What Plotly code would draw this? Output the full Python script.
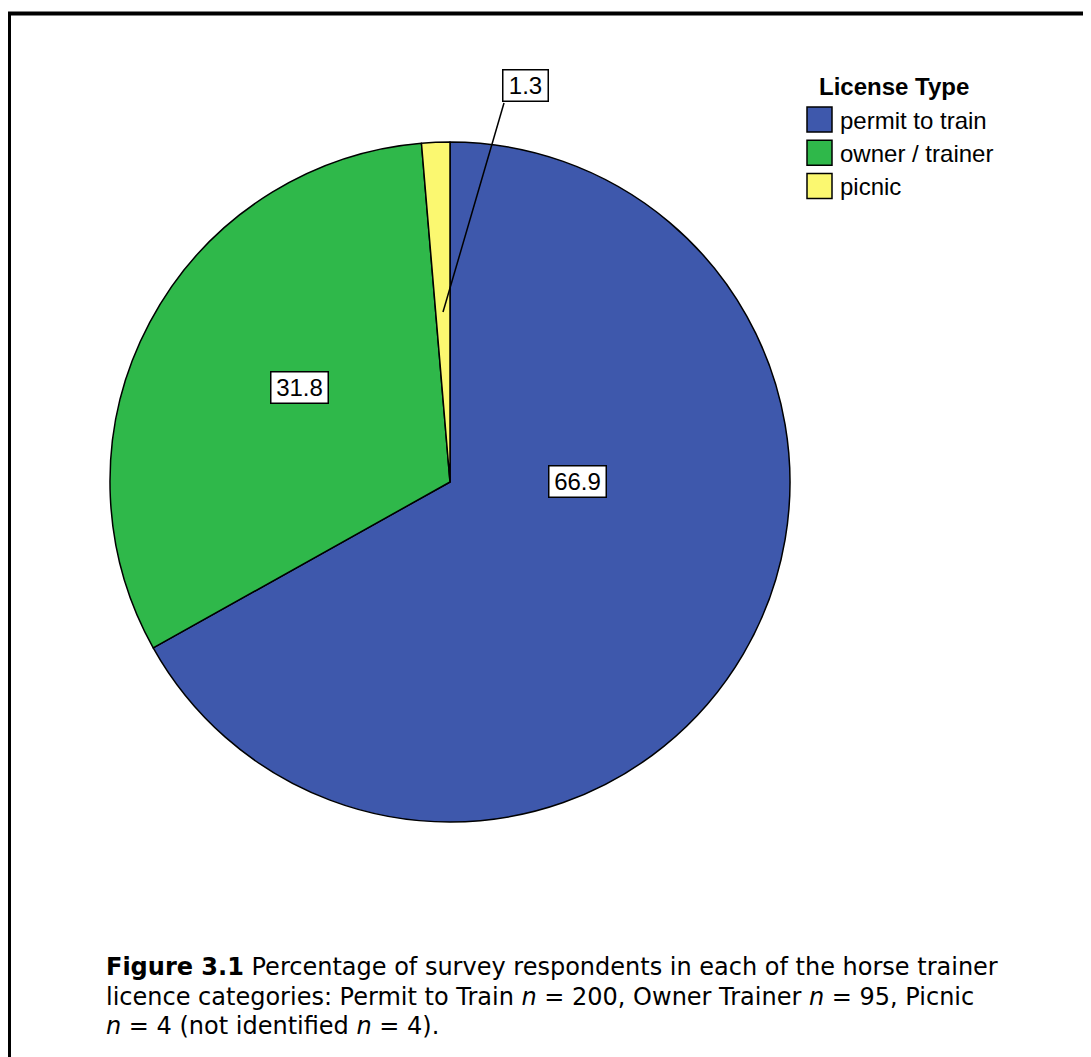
import plotly.graph_objects as go

# survey counts per licence type
license_types = ["permit to train", "owner / trainer", "picnic"]
respondents = [200, 95, 4]
slice_colors = ["#3e58ac", "#2fb84a", "#fbf870"]

caption_lines = [
    "<b>Figure 3.1</b> Percentage of survey respondents in each of the horse trainer",
    "licence categories: Permit to Train <i>n</i> = 200, Owner Trainer <i>n</i> = 95, Picnic",
    "<i>n</i> = 4 (not identified <i>n</i> = 4).",
]

# page body adds an 8px margin, so the figure is a bit smaller than the window
OFF = 8
W, H = 1091 - OFF, 1057 - OFF


def px(x):
    return (x - OFF) / W


def py(y):
    return 1 - (y - OFF) / H


total = sum(respondents)
pct_labels = [f"{v / total * 100:.1f}" for v in respondents]

fig = go.Figure(
    go.Pie(
        labels=license_types,
        values=respondents,
        sort=False,
        direction="clockwise",
        rotation=0,
        marker=dict(colors=slice_colors, line=dict(color="black", width=1.5)),
        textinfo="none",
        hovertemplate="%{label}: %{percent:.1%}<extra></extra>",
        domain=dict(x=[px(110), px(790)], y=[py(822), py(142)]),
        showlegend=False,
    )
)

label_font = dict(family="Liberation Sans, Arial", size=24, color="black")
box_style = dict(bgcolor="white", bordercolor="black", borderwidth=1.5, borderpad=2,
                 showarrow=False, xref="paper", yref="paper", font=label_font,
                 xanchor="center", yanchor="middle", height=26)

# label box positions (pixels) and box widths for each slice
label_pos = [(577, 481), (299, 387), (525, 85)]
label_w = [52, 52, 40]
annotations = []
for txt, (lx, ly), bw in zip(pct_labels, label_pos, label_w):
    annotations.append(dict(text=txt, x=px(lx), y=py(ly), width=bw, **box_style))

# legend drawn by hand so the swatches match the size in the original
annotations.append(dict(text="<b>License Type</b>", x=px(894), y=py(87), xref="paper", yref="paper",
                        xanchor="center", yanchor="middle", showarrow=False, font=label_font))
shapes = []
for i, (name, col) in enumerate(zip(license_types, slice_colors)):
    top = 107 + i * 33.3
    shapes.append(dict(type="rect", xref="paper", yref="paper",
                       x0=px(807), x1=px(832), y0=py(top + 25), y1=py(top),
                       fillcolor=col, line=dict(color="black", width=1.5)))
    annotations.append(dict(text=name, x=px(838), y=py(top + 13), xanchor="left", yanchor="middle",
                            xref="paper", yref="paper", showarrow=False, font=label_font))

# leader line for the small slice
shapes.append(dict(type="line", xref="paper", yref="paper",
                   x0=px(504), y0=py(103), x1=px(443), y1=py(312),
                   line=dict(color="black", width=1.5)))

# outer frame
shapes.append(dict(type="rect", xref="paper", yref="paper",
                   x0=px(9), x1=px(1110), y0=py(1080), y1=py(13.5),
                   line=dict(color="black", width=4)))

for i, line in enumerate(caption_lines):
    annotations.append(dict(text=line, x=px(104), y=py(967 + i * 29.5), xanchor="left", yanchor="middle",
                            xref="paper", yref="paper", showarrow=False,
                            font=dict(family="DejaVu Sans, Verdana", size=24, color="black")))

fig.update_layout(
    width=W,
    height=H,
    margin=dict(l=0, r=0, t=0, b=0),
    paper_bgcolor="white",
    plot_bgcolor="white",
    annotations=annotations,
    shapes=shapes,
)

fig.write_html("out.html")
